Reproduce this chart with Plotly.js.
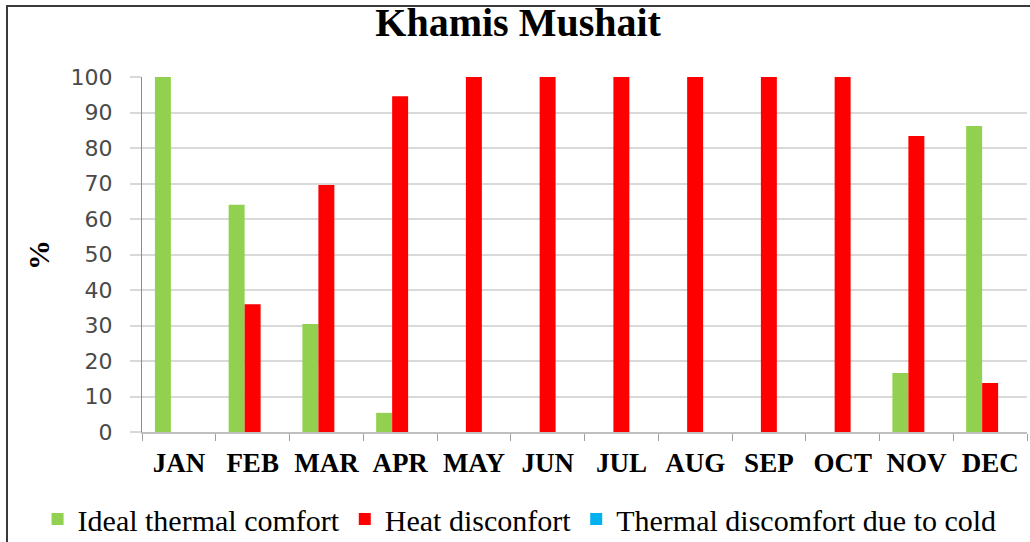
<!DOCTYPE html>
<html>
<head>
<meta charset="utf-8">
<script src="https://cdn.plot.ly/plotly-3.0.1.min.js"></script>
<style>
  html, body { margin: 0; padding: 0; background: #fff; }
  #wrap { position: relative; width: 1030px; height: 542px; overflow: hidden; }
  #chart { width: 1030px; height: 542px; }
  #frame { position: absolute; left: 6px; top: 5px; width: 1040px; height: 560px;
           border-top: 2px solid #3a3a3a; border-left: 2px solid #3a3a3a; pointer-events: none; }
</style>
</head>
<body>
<div id="wrap">
  <div id="chart"></div>
  <div id="frame"></div>
</div>
<script>
const months = ["JAN","FEB","MAR","APR","MAY","JUN","JUL","AUG","SEP","OCT","NOV","DEC"];
const idealComfort = [100, 64, 30.4, 5.4, 0, 0, 0, 0, 0, 0, 16.6, 86.2];
const heatDiscomfort = [0, 36, 69.6, 94.6, 100, 100, 100, 100, 100, 100, 83.4, 13.8];
const coldDiscomfort = [0, 0, 0, 0, 0, 0, 0, 0, 0, 0, 0, 0];
const yTicks = [0, 10, 20, 30, 40, 50, 60, 70, 80, 90, 100];

const traces = [
  { type: "bar", name: "Ideal thermal comfort", x: months, y: idealComfort, marker: { color: "#92d050" } },
  { type: "bar", name: "Heat disconfort", x: months, y: heatDiscomfort, marker: { color: "#ff0000" } },
  { type: "bar", name: "Thermal discomfort due to cold", x: months, y: coldDiscomfort, marker: { color: "#00b0f0" } }
];

const layout = {
  width: 1030, height: 542,
  margin: { l: 142, r: 3, t: 77, b: 110, autoexpand: false },
  paper_bgcolor: "#ffffff", plot_bgcolor: "#ffffff",
  barmode: "group", bargap: 0.35, bargroupgap: 0,
  title: { text: "Khamis Mushait", x: 0.503, xanchor: "center", y: 0.96, yanchor: "middle",
           font: { family: "Liberation Serif", size: 40, color: "#000", weight: "bold" } },
  xaxis: {
    type: "category", tickson: "boundaries", ticks: "outside", ticklen: 7, tickwidth: 1, tickcolor: "#a0a0a0",
    showline: true, linecolor: "#c0c0c0", linewidth: 2, showgrid: false, tickangle: 0,
    tickfont: { family: "Liberation Serif", size: 27, color: "#000", weight: "bold" },
    ticklabelstandoff: 6
  },
  yaxis: {
    range: [0, 100], tickvals: yTicks, ticktext: yTicks.map(String),
    ticks: "outside", ticklen: 11, tickwidth: 2, tickcolor: "#d9d9d9",
    showgrid: true, gridcolor: "#d9d9d9", gridwidth: 2, zeroline: false,
    showline: true, linecolor: "#8c8c8c", linewidth: 1,
    tickfont: { family: "DejaVu Sans", size: 22, color: "#4a4a4a" },
    ticklabelstandoff: 13
  },
  showlegend: true,
  legend: { orientation: "h", x: -0.118, xanchor: "left", y: -0.245, yanchor: "middle",
            font: { family: "Liberation Serif", size: 30, color: "#000" },
            itemwidth: 30, tracegroupgap: 0, bgcolor: "rgba(0,0,0,0)" },
  annotations: [
    { text: "%", xref: "paper", yref: "paper", x: -0.117, y: 0.5, xanchor: "center", yanchor: "middle",
      textangle: -90, showarrow: false, font: { family: "Liberation Serif", size: 30, color: "#000", weight: "bold" } }
  ]
};

Plotly.newPlot("chart", traces, layout, { staticPlot: true, displayModeBar: false });
</script>
</body>
</html>
